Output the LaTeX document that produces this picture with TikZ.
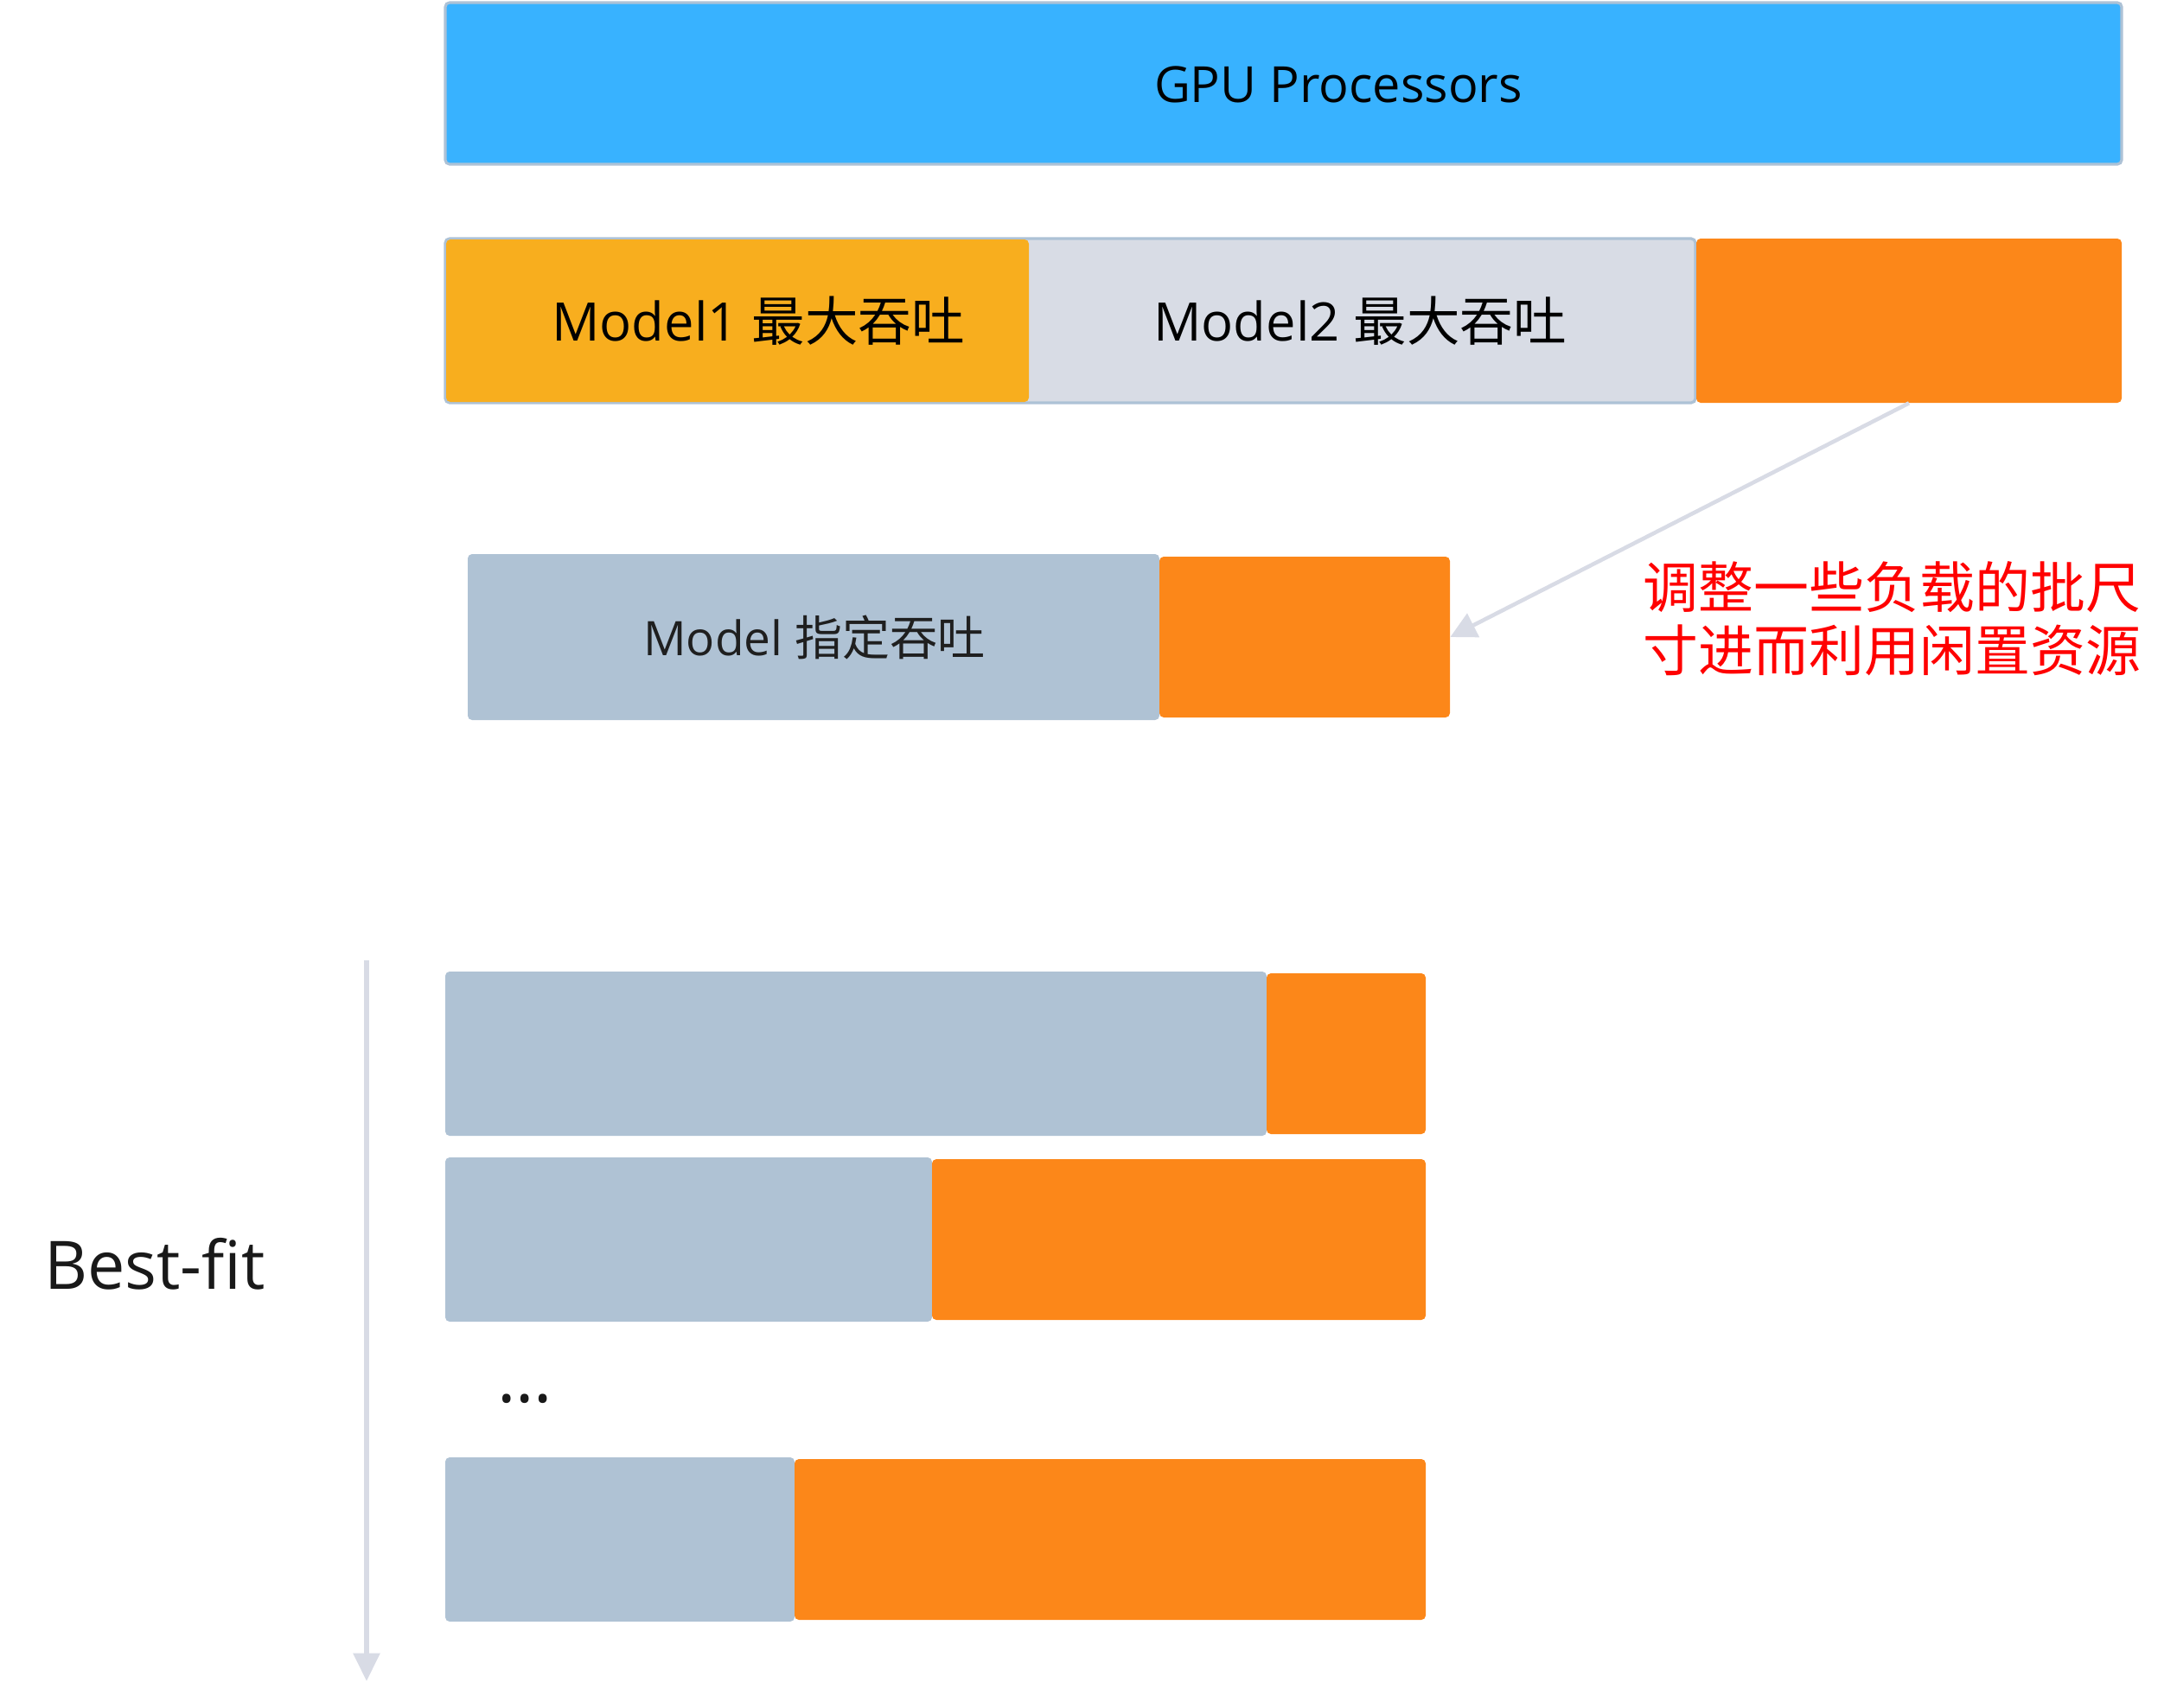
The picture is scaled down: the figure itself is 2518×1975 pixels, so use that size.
\documentclass[tikz,border=0pt]{standalone}
\usepackage{fontspec}
\setmainfont{Open Sans}
\newfontfamily\cjk{Noto Sans CJK SC}
\usetikzlibrary{fit,arrows.meta}
\definecolor{gpublue}{HTML}{38B2FF}
\definecolor{edgeblue}{HTML}{ADC2D6}
\definecolor{yelloworange}{HTML}{F8AE1E}
\definecolor{lightgray}{HTML}{D8DCE5}
\definecolor{barorange}{HTML}{FC8719}
\definecolor{graybluefill}{HTML}{AFC2D4}
\definecolor{arrowgray}{HTML}{D8DBE5}
\definecolor{redtext}{HTML}{FF0000}
\begin{document}
\begin{tikzpicture}[x=0.02cm,y=-0.02cm,
  bar/.style={rounded corners=0.1cm, inner sep=0pt, draw=none},
  lbl/.style={font=\fontsize{34}{40}\selectfont, text=black},
  conn/.style={draw=arrowgray, line width=2.6pt, -{Triangle[length=0.6cm,width=0.6cm]}},
  vconn/.style={draw=arrowgray, line width=3.4pt, -{Triangle[length=0.65cm,width=0.6cm]}}
]
\useasboundingbox (0,0) rectangle (2518,1975);

% GPU processors
\node[bar, fill=gpublue, draw=edgeblue, line width=1.8pt, fit={(515,3)(2454,190)}] (gpu) {};
\node[lbl, font=\fontsize{32.8}{40}\selectfont] (gput) at (1548,98) {GPU Processors};

% Row 2
\node[bar, fill=lightgray, draw=edgeblue, line width=1.8pt, fit={(515,276)(1961,466)}] (m2bg) {};
\node[bar, fill=yelloworange, fit={(516,277)(1190,465)}] (m1) {};
\node[lbl, font=\fontsize{35}{42}\selectfont] (m1t) at (877,371) {Model1 {\cjk 最大吞吐}};
\node[lbl, font=\fontsize{35}{42}\selectfont] (m2t) at (1573,371) {Model2 {\cjk 最大吞吐}};
\node[bar, fill=barorange, fit={(1962,276)(2454,466)}] (o1) {};

% Row 3
\node[bar, fill=graybluefill, fit={(541,641)(1341,833)}] (g2) {};
\node[bar, fill=barorange, fit={(1341,644)(1677,830)}] (o2) {};
\node[lbl, font=\fontsize{31.3}{38}\selectfont, text=black!88] (g2t) at (942,737) {Model {\cjk 指定吞吐}};

\draw[conn] (o1.south) -- (o2.east);

\node[anchor=west, align=left, text=redtext, font=\cjk\fontsize{36.4}{41.5}\selectfont, inner sep=0pt] (note) at (1900,716) {调整一些负载的批尺\\寸进而利用闲置资源};

% Best-fit rows
\node[bar, fill=graybluefill, fit={(515,1124)(1465,1314)}] (ga) {};
\node[bar, fill=barorange, fit={(1465,1126)(1649,1312)}] (oa) {};
\node[bar, fill=graybluefill, fit={(515,1339)(1078,1529)}] (gb) {};
\node[bar, fill=barorange, fit={(1078,1341)(1649,1527)}] (ob) {};
\node[font=\fontsize{46}{50}\selectfont, text=black!90, inner sep=0pt, anchor=base] (dots) at (607,1622) {…};
\node[bar, fill=graybluefill, fit={(515,1686)(919,1876)}] (gc) {};
\node[bar, fill=barorange, fit={(919,1688)(1649,1874)}] (oc) {};

\coordinate (vtop) at (424,1111);
\coordinate (vbot) at (424,1945);
\draw[vconn] (vtop) -- (vbot);

\node[anchor=west, inner sep=0pt, font=\fontsize{44}{50}\selectfont, text=black!90] (bf) at (51,1462) {Best-fit};
\end{tikzpicture}
\end{document}
